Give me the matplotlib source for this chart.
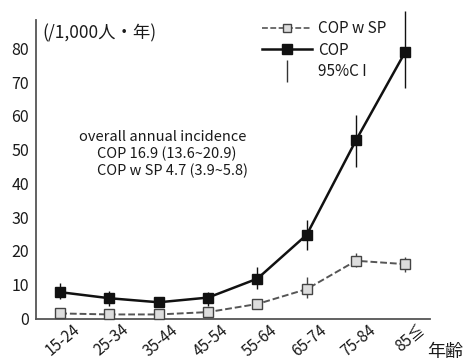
import matplotlib
matplotlib.use("Agg")
import matplotlib.pyplot as plt
import matplotlib.transforms as mtransforms
from matplotlib.lines import Line2D

plt.rcParams['font.family'] = ['Noto Sans CJK JP', 'DejaVu Sans']

age_groups = ["15-24", "25-34", "35-44", "45-54", "55-64", "65-74", "75-84", "85≦"]

cop = [7.8, 6.0, 4.8, 6.2, 11.8, 24.8, 52.8, 79.0]
cop_lo = [5.7, 3.7, 3.5, 3.7, 8.8, 20.4, 44.8, 68.4]
cop_hi = [10.6, 8.2, 6.3, 7.9, 15.3, 29.2, 60.2, 91.0]

cop_sp = [1.5, 1.2, 1.2, 1.9, 4.3, 8.7, 17.1, 16.1]
cop_sp_lo = [0.8, 0.6, 0.6, 1.2, 3.0, 6.2, 15.2, 13.7]
cop_sp_hi = [2.3, 1.9, 1.9, 2.7, 5.8, 12.2, 19.3, 18.3]

y_ticks = [0, 10, 20, 30, 40, 50, 60, 70, 80]

W, H = 465, 363
fig = plt.figure(figsize=(W / 100, H / 100), dpi=100)
ax = fig.add_axes([36 / W, 1 - 318.5 / H, (430 - 36) / W, (318.5 - 20) / H])

x = list(range(len(age_groups)))

# confidence intervals (no caps)
ax.vlines(x, cop_sp_lo, cop_sp_hi, color="#444444", lw=1.0, zorder=2, clip_on=False)
ax.vlines(x, cop_lo, cop_hi, color="#111111", lw=1.0, zorder=2, clip_on=False)

ax.plot(x, cop_sp, ls=(0, (3.5, 1.5)), color="#555555", lw=1.4,
        marker="s", ms=7, mfc="#dddddd", mec="#444444", mew=1.0, zorder=3, clip_on=False)
ax.plot(x, cop, ls="-", color="#111111", lw=1.8,
        marker="s", ms=7.5, mfc="#111111", mec="#111111", zorder=4, clip_on=False)

ax.set_xlim(-0.49, 7.5)
ax.set_ylim(0, 88.4)
ax.tick_params(axis="y", length=0, pad=5)
ax.tick_params(axis="x", length=0, pad=2)
ax.set_yticks(y_ticks)
ax.set_yticklabels([str(v) for v in y_ticks], fontsize=11.5, color="#1a1a1a")
ax.set_xticks(x)
ax.set_xticklabels(age_groups, fontsize=11, rotation=40, ha="right", va="top",
                   rotation_mode="anchor", color="#1a1a1a")
# nudge the slanted age labels to the right of their tick positions
offset = mtransforms.ScaledTranslation(12 / 100, 0, fig.dpi_scale_trans)
for lab in ax.get_xticklabels():
    lab.set_transform(lab.get_transform() + offset)

for side in ("top", "right"):
    ax.spines[side].set_visible(False)
for side in ("left", "bottom"):
    ax.spines[side].set_color("#555555")
    ax.spines[side].set_linewidth(1.3)

ax.text(0.015, 0.985, "(/1,000人・年)", transform=ax.transAxes, fontsize=12.5,
        ha="left", va="top", color="#1a1a1a")

fig.text(445 / W, 1 - 352 / H, "年齢", fontsize=13, ha="center", va="center", color="#1a1a1a")

ax.text(2.07, 53.8, "overall annual incidence", fontsize=10.5, ha="center", va="center", color="#1a1a1a")
ax.text(0.75, 48.7, "COP 16.9 (13.6~20.9)", fontsize=10.5, ha="left", va="center", color="#1a1a1a")
ax.text(0.75, 43.7, "COP w SP 4.7 (3.9~5.8)", fontsize=10.5, ha="left", va="center", color="#1a1a1a")

handles = [
    Line2D([], [], ls=(0, (3.5, 1.5)), color="#555555", lw=1.2, marker="s", ms=6,
           mfc="#dddddd", mec="#444444", mew=1.0),
    Line2D([], [], ls="-", color="#111111", lw=1.8, marker="s", ms=6.5, mfc="#111111", mec="#111111"),
    Line2D([], [], ls="none", color="#333333", marker="|", ms=16, mew=1.0),
]
leg = ax.legend(handles, ["COP w SP", "COP", "95%C I"], loc="upper left",
                bbox_to_anchor=(262 / W, 1 - 20 / H), bbox_transform=fig.transFigure,
                frameon=False, fontsize=11, handlelength=3.27,
                handletextpad=0.4, labelspacing=0.3, borderaxespad=0, borderpad=0)
for t in leg.get_texts():
    t.set_color("#1a1a1a")

fig.savefig("out.png", dpi=100)
